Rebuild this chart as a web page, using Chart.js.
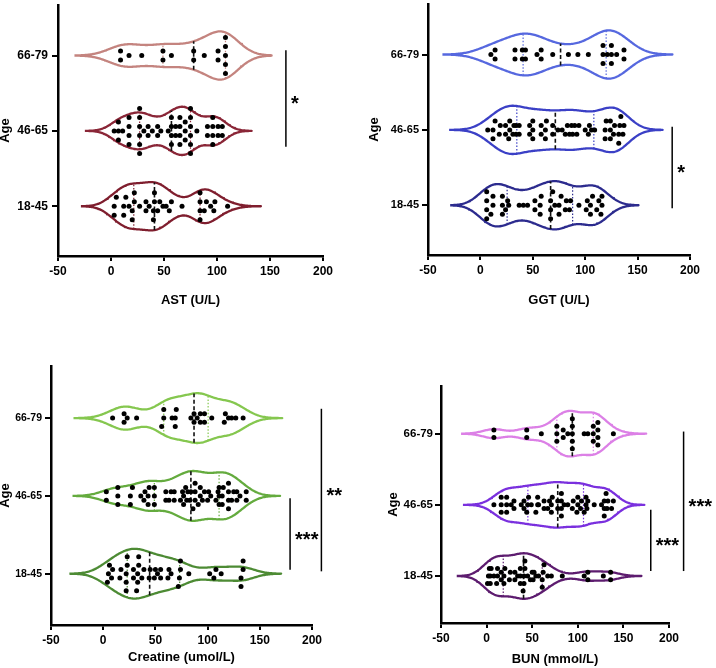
<!DOCTYPE html>
<html>
<head>
<meta charset="utf-8">
<script src="https://cdn.jsdelivr.net/npm/chart.js@4.4.1/dist/chart.umd.min.js"></script>
<style>
  body { margin: 0; background: #fff; }
  #wrap { position: relative; width: 716px; height: 668px; }
  canvas { position: absolute; }
</style>
</head>
<body>
<div id="wrap">
  <canvas id="astChart" width="358" height="334" style="left:0;top:0"></canvas>
  <canvas id="ggtChart" width="358" height="334" style="left:358px;top:0"></canvas>
  <canvas id="creChart" width="358" height="334" style="left:0;top:334px"></canvas>
  <canvas id="bunChart" width="358" height="334" style="left:358px;top:334px"></canvas>
</div>
<script>
// age groups, bottom to top
const ageGroups = ['18-45', '46-65', '66-79'];

// AST (U/L)
const astYoung = [3, 3, 5, 12, 12, 14, 17, 20, 20, 22, 22, 27, 33, 33, 36, 40, 40, 41, 41, 44, 46, 49, 52, 55, 57, 67, 84, 84, 84, 84, 88, 90, 94, 97, 98, 110];
const astMid = [3, 7, 7, 7, 11, 17, 17, 17, 17, 27, 27, 27, 27, 27, 27, 31, 35, 35, 39, 44, 44, 47, 54, 57, 57, 57, 57, 61, 61, 65, 65, 65, 65, 70, 70, 70, 75, 75, 75, 75, 75, 75, 81, 91, 91, 96, 96, 96, 96, 101, 101, 105, 105];
const astOld = [9, 9, 17, 29, 49, 49, 57, 78, 78, 88, 101, 101, 108, 108, 108, 108, 108];

// GGT (U/L)
const ggtYoung = [6, 6, 6, 6, 10, 12, 12, 21, 21, 21, 24, 26, 27, 37, 41, 45, 52, 52, 57, 57, 58, 67, 67, 67, 69, 71, 75, 75, 77, 81, 82, 85, 86, 94, 101, 102, 105, 105, 107, 111, 113, 115, 116, 116];
const ggtMid = [7, 12, 12, 14, 18, 19, 24, 24, 27, 28, 28, 31, 32, 34, 34, 37, 37, 47, 47, 50, 50, 50, 58, 58, 62, 62, 63, 69, 69, 74, 78, 81, 83, 85, 87, 88, 90, 92, 94, 100, 103, 104, 106, 109, 119, 119, 120, 124, 124, 124, 127, 128, 132, 132, 133, 134, 136, 137];
const ggtOld = [10, 14, 14, 33, 33, 40, 40, 43, 43, 54, 58, 58, 69, 84, 93, 103, 117, 117, 117, 121, 125, 125, 125, 130, 137, 137];

// Creatine (umol/L)
const creYoung = [4, 5, 6, 8, 9, 16, 17, 22, 22, 22, 23, 23, 29, 29, 32, 33, 33, 34, 34, 37, 39, 44, 45, 49, 50, 52, 55, 55, 62, 63, 65, 72, 73, 74, 74, 82, 102, 106, 108, 113, 132, 132, 134, 134];
const creMid = [3, 3, 14, 14, 14, 26, 26, 28, 36, 39, 40, 43, 43, 44, 49, 49, 49, 60, 60, 63, 65, 68, 68, 74, 76, 77, 77, 79, 80, 81, 83, 84, 86, 88, 88, 88, 91, 93, 93, 95, 97, 100, 101, 103, 108, 110, 111, 111, 111, 114, 114, 115, 120, 120, 120, 120, 123, 125, 128, 128, 131, 137, 137];
const creOld = [9, 20, 20, 23, 32, 56, 58, 58, 66, 69, 69, 70, 84, 87, 87, 90, 93, 93, 97, 97, 104, 116, 117, 120, 123, 127, 134];

// BUN (mmol/L)
const bunYoung = [1, 2, 3, 4, 4, 5, 8, 11, 12, 12, 16, 16, 19, 19, 20, 25, 26, 31, 31, 34, 37, 37, 37, 40, 41, 41, 42, 42, 45, 48, 50, 51, 52, 54, 57, 61, 61, 62, 63, 67, 71, 83, 107, 111, 111, 128, 136, 136];
const bunMid = [8, 16, 16, 16, 22, 22, 22, 27, 30, 30, 38, 41, 41, 44, 45, 46, 49, 54, 56, 56, 57, 63, 63, 67, 69, 71, 71, 72, 78, 78, 82, 82, 82, 82, 85, 89, 94, 95, 99, 100, 100, 103, 104, 107, 109, 109, 110, 111, 118, 126, 129, 129, 129, 131, 132, 133, 137, 139];
const bunOld = [8, 8, 44, 44, 60, 77, 77, 77, 84, 84, 89, 94, 94, 94, 94, 94, 107, 111, 117, 117, 117, 122, 122, 122, 122, 139];

const Y_MIN = -0.66, Y_MAX = 2.67;
const HALF_WIDTH = 0.32;   // widest part of each violin, in category units
const FONT = "'Liberation Sans', Arial, Helvetica, sans-serif";

const panels = [
  { id: 'astChart', title: 'AST (U/L)', series: [astYoung, astMid, astOld],
    colors: ['#7f1e2e', '#8a2637', '#c4847f'],
    box: { yWidth: 58, right: 35, top: 5, xHeight: 78, ageGap: -2, titleGap: 26, tickSize: 12, tickPad: 4 }, rowPx: 9,
    marks: [{ x: 165, from: 2.07, to: 0.79, text: '*' }] },
  { id: 'ggtChart', title: 'GGT (U/L)', series: [ggtYoung, ggtMid, ggtOld],
    colors: ['#2c2b8e', '#3b40c6', '#5668df'],
    box: { yWidth: 70, right: 26, top: 2, xHeight: 79, ageGap: 9, titleGap: 26, tickSize: 11, tickPad: 3 }, rowPx: 9,
    marks: [{ x: 183, from: 1.04, to: -0.04, text: '*' }] },
  { id: 'creChart', title: 'Creatine (umol/L)', series: [creYoung, creMid, creOld],
    colors: ['#4d8b34', '#64ab3e', '#85c74f'],
    box: { yWidth: 51, right: 46, top: 32, xHeight: 43, ageGap: -2, titleGap: 3, tickSize: 10.5, tickPad: 3 }, rowPx: 8.5,
    marks: [{ x: 179, from: 0.97, to: 0.05, text: '***' }, { x: 209, from: 2.12, to: 0.03, text: '**' }] },
  { id: 'bunChart', title: 'BUN (mmol/L)', series: [bunYoung, bunMid, bunOld],
    colors: ['#5d1c6f', '#7a30de', '#dc80e6'],
    box: { yWidth: 83, right: 47, top: 52, xHeight: 45, ageGap: 28, titleGap: 1, tickSize: 11.5, tickPad: 2 }, rowPx: 7.5,
    marks: [{ x: 180, from: 0.93, to: 0.07, text: '***' }, { x: 216, from: 2.03, to: 0.07, text: '***' }] }
];

function quantile(sorted, p) {
  const pos = (sorted.length - 1) * p;
  const lo = Math.floor(pos), hi = Math.ceil(pos);
  return sorted[lo] + (sorted[hi] - sorted[lo]) * (pos - lo);
}

// gaussian kde, scaled so the widest point is HALF_WIDTH
function violinShape(values) {
  const n = values.length;
  const mean = values.reduce((a, b) => a + b, 0) / n;
  const sd = Math.sqrt(values.reduce((a, v) => a + (v - mean) ** 2, 0) / (n - 1));
  const bw = 0.68 * sd * Math.pow(n, -0.2);
  const dens = x => values.reduce((s, v) => s + Math.exp(-0.5 * ((x - v) / bw) ** 2), 0);
  const lo = Math.min(...values) - 3 * bw, hi = Math.max(...values) + 3 * bw;
  const xs = [];
  for (let i = 0; i <= 200; i++) xs.push(lo + (hi - lo) * i / 200);
  const peak = Math.max(...xs.map(dens));
  return { xs, half: x => dens(x) / peak * HALF_WIDTH };
}

// stack near-equal values into symmetric columns, like the prism scatter
function swarm(values, c, rowStep) {
  const sorted = [...values].sort((a, b) => a - b);
  const cols = [];
  sorted.forEach(v => {
    const col = cols[cols.length - 1];
    if (col && v - col[0] <= 2.5) col.push(v);
    else cols.push([v]);
  });
  const pts = [];
  cols.forEach(col => col.forEach((v, i) => {
    pts.push({ x: v, y: c + (i - (col.length - 1) / 2) * rowStep });
  }));
  return pts;
}

const markPlugin = {
  id: 'sigMarks',
  afterDraw(chart, args, opts) {
    const { ctx, scales: { x, y } } = chart;
    ctx.save();
    (opts.marks || []).forEach(m => {
      const px = x.getPixelForValue(m.x);
      const y1 = y.getPixelForValue(m.from), y2 = y.getPixelForValue(m.to);
      ctx.strokeStyle = '#000';
      ctx.lineWidth = 1.5;
      ctx.beginPath();
      ctx.moveTo(px, y1);
      ctx.lineTo(px, y2);
      ctx.stroke();
      ctx.fillStyle = '#000';
      ctx.font = 'bold 20px ' + FONT;
      ctx.textAlign = 'left';
      ctx.textBaseline = 'alphabetic';
      ctx.fillText(m.text, px + 5, (y1 + y2) / 2 + 11.5);
    });
    ctx.restore();
  }
};

function makePanel(p) {
  const b = p.box;
  const pxPerUnit = (334 - b.xHeight - b.top) / (Y_MAX - Y_MIN);
  const rowStep = p.rowPx / pxPerUnit;
  const datasets = [];

  p.series.forEach((vals, c) => {
    const color = p.colors[c];
    const sorted = [...vals].sort((a, b2) => a - b2);
    const shape = violinShape(vals);

    datasets.push({
      data: swarm(vals, c, rowStep),
      pointRadius: 2.5, pointBackgroundColor: '#000', pointBorderWidth: 0,
      showLine: false, order: 0
    });

    const upper = shape.xs.map(x => ({ x, y: c + shape.half(x) }));
    const lower = shape.xs.slice().reverse().map(x => ({ x, y: c - shape.half(x) }));
    datasets.push({
      data: upper.concat(lower),
      showLine: true, fill: false, pointRadius: 0,
      borderColor: color, borderWidth: 2.3, borderJoinStyle: 'round', order: 2
    });

    [0.25, 0.5, 0.75].forEach(q => {
      const qx = quantile(sorted, q);
      const h = shape.half(qx);
      const isMedian = q === 0.5;
      datasets.push({
        data: [{ x: qx, y: c - h }, { x: qx, y: c + h }],
        showLine: true, fill: false, pointRadius: 0,
        borderColor: isMedian ? '#111' : color,
        borderWidth: isMedian ? 1.6 : 1.2,
        borderDash: isMedian ? [4, 2.5] : [1.5, 1.8],
        order: 1
      });
    });
  });

  new Chart(document.getElementById(p.id), {
    type: 'scatter',
    data: { datasets },
    options: {
      responsive: false,
      animation: false,
      devicePixelRatio: 1,
      events: [],
      layout: { padding: { left: 0, right: b.right, top: b.top, bottom: 0 } },
      plugins: {
        legend: { display: false },
        tooltip: { enabled: false },
        sigMarks: { marks: p.marks }
      },
      scales: {
        x: {
          type: 'linear', min: -50, max: 200,
          ticks: { stepSize: 50, color: '#000', padding: 3, maxRotation: 0,
                   font: { family: FONT, size: 12, weight: 'bold' } },
          grid: { drawOnChartArea: false, tickLength: 5, color: '#000', lineWidth: 2 },
          border: { color: '#000', width: 2.5 },
          title: { display: true, text: p.title, color: '#000',
                   font: { family: FONT, size: 13, weight: 'bold' },
                   padding: { top: 0, bottom: b.titleGap } },
          afterFit: s => { s.height = b.xHeight; s.paddingLeft = 0; s.paddingRight = 0; }
        },
        y: {
          type: 'linear', min: Y_MIN, max: Y_MAX,
          afterBuildTicks: axis => { axis.ticks = ageGroups.map((g, i) => ({ value: i })); },
          ticks: { callback: v => ageGroups[v], color: '#000', padding: b.tickPad,
                   font: { family: FONT, size: b.tickSize, weight: 'bold' } },
          grid: { drawOnChartArea: false, tickLength: 6, color: '#000', lineWidth: 2 },
          border: { color: '#000', width: 2.5 },
          title: { display: true, text: 'Age', color: '#000',
                   font: { family: FONT, size: 13, weight: 'bold' },
                   padding: { top: b.ageGap, bottom: 0 } },
          afterFit: s => { s.width = b.yWidth; s.paddingTop = 0; s.paddingBottom = 0; }
        }
      }
    },
    plugins: [markPlugin]
  });
}

panels.forEach(makePanel);
</script>
</body>
</html>
